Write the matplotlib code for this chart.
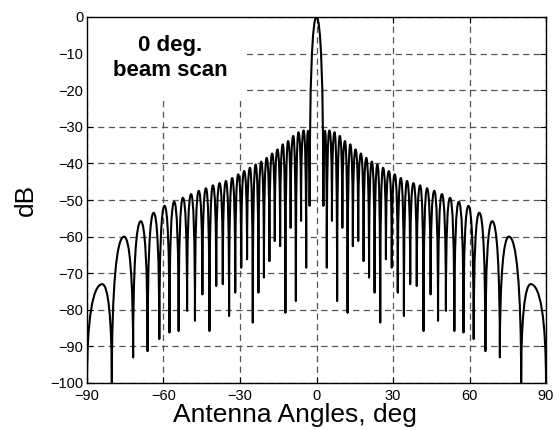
import matplotlib
matplotlib.use("Agg")
import matplotlib.pyplot as plt
from matplotlib.patches import PathPatch, Rectangle
from matplotlib.path import Path

plt.rcParams["font.family"] = ["Liberation Sans", "DejaVu Sans"]

# Array pattern for broadside scan; symmetric, so only 0..90 deg is listed.
# Lobe maxima (main beam first), then the null that follows each one.
peak_deg = [0.0, 3.35, 5.05, 7.08, 9.11, 11.16, 13.23, 15.31, 17.41, 19.54,
            21.69, 23.88, 26.10, 28.37, 30.69, 33.07, 35.51, 38.02, 40.63,
            43.35, 46.19, 49.18, 52.37, 55.81, 59.59, 63.85, 68.90, 75.46, 84.0]
peak_db = [0.0, -31.1, -31.0, -31.5, -32.5, -33.9, -34.8, -36.2, -37.3, -38.5,
           -39.5, -40.3, -41.2, -42.1, -43.0, -44.0, -44.8, -45.4, -46.0,
           -46.8, -47.5, -48.4, -49.4, -50.5, -51.6, -53.5, -55.8, -60.0, -73.0]
null_deg = [2.7, 4.04, 6.06, 8.09, 10.14, 12.19, 14.26, 16.36, 18.47, 20.61,
            22.78, 24.99, 27.23, 29.52, 31.87, 34.28, 36.75, 39.32, 41.98,
            44.75, 47.66, 50.75, 54.06, 57.66, 61.64, 66.24, 71.91, 80.26, 90.0]
null_db = [-51.6, -68.5, -55.7, -77.6, -57.6, -80.8, -62.6, -61.2, -66.7, -71.2,
           -75.3, -83.5, -66.2, -68.5, -75.3, -81.7, -73.0, -73.5, -85.8,
           -75.8, -83.0, -80.3, -85.8, -86.2, -88.0, -91.3, -93.0, -100.0, -100.0]

x_ticks = [-90, -60, -30, 0, 30, 60, 90]
y_ticks = [0, -10, -20, -30, -40, -50, -60, -70, -80, -90, -100]


def pattern_points():
    """Alternating null/peak vertices from -90 to +90 deg."""
    right = []
    for i in range(len(peak_deg)):
        right.append((peak_deg[i], peak_db[i]))
        right.append((null_deg[i], null_db[i]))
    left = [(-a, d) for a, d in reversed(right[1:])]
    return left + right


def lobe_path(pts):
    """Rounded lobes, sharp nulls: one cubic segment per null/peak pair."""
    verts = [pts[0]]
    codes = [Path.MOVETO]
    for (x0, y0), (x1, y1) in zip(pts[:-1], pts[1:]):
        if y1 > y0:   # rising into a peak
            c1 = (x0, y1 - (y1 - y0) / 3)
            c2 = (x0 + 0.4 * (x1 - x0), y1)
        else:         # falling into a null
            c1 = (x0 + 0.6 * (x1 - x0), y0)
            c2 = (x1, y0 - (y0 - y1) / 3)
        verts += [c1, c2, (x1, y1)]
        codes += [Path.CURVE4] * 3
    return Path(verts, codes)


fig = plt.figure(figsize=(5.58, 4.30), dpi=100)
ax = fig.add_axes([87 / 558, 47 / 430, 459 / 558, 366 / 430])

ax.add_patch(PathPatch(lobe_path(pattern_points()), fill=False,
                       ec="black", lw=1.5, zorder=3, joinstyle="round"))

ax.set_xlim(-90, 90)
ax.set_ylim(-100, 0)
ax.set_xticks(x_ticks)
ax.set_yticks(y_ticks)
ax.tick_params(direction="in", length=4, top=True, right=True,
               labelsize=10.5, width=0.8)
ax.tick_params(axis="x", pad=4.5)
ax.tick_params(axis="y", pad=2.5)
ax.set_axisbelow(True)
ax.grid(True, color="#555555", lw=0.9, linestyle=(0, (5, 3.5)))
for sp in ax.spines.values():
    sp.set_linewidth(1.0)

# blank panel behind the annotation
ax.add_patch(Rectangle((0, 0.7814), 0.3486, 0.2186, transform=ax.transAxes,
                       fc="white", ec="none", zorder=1.5))
ax.text(0.181, 0.888, "0 deg.\nbeam scan", transform=ax.transAxes,
        ha="center", va="center", fontsize=16, fontweight="bold",
        linespacing=1.25, zorder=4)

ax.set_xlabel("Antenna Angles, deg", fontsize=19)
ax.set_ylabel("dB", fontsize=19)
ax.xaxis.set_label_coords(0.454, -0.055)
ax.yaxis.set_label_coords(-0.107, 0.5)

fig.savefig("out.png", dpi=100)
